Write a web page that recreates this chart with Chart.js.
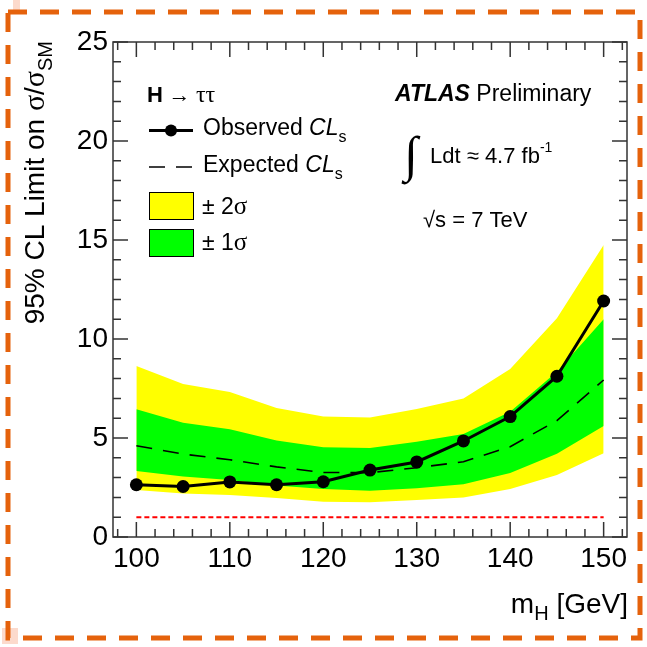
<!DOCTYPE html>
<html>
<head>
<meta charset="utf-8">
<script src="https://cdn.jsdelivr.net/npm/chart.js@4.4.1/dist/chart.umd.min.js"></script>
<style>
    html, body { margin: 0; padding: 0; background: #fff; }
    #wrap { width: 647px; height: 647px; }
</style>
</head>
<body>
<div id="wrap"><canvas id="limitChart" width="647" height="647"></canvas></div>
<script>
// Higgs mass points (GeV)
const masses = [100, 105, 110, 115, 120, 125, 130, 135, 140, 145, 150];

// 95% CL limits on sigma/sigma_SM
const observed = [2.64, 2.55, 2.78, 2.64, 2.79, 3.38, 3.79, 4.85, 6.08, 8.12, 11.92];
const expected = [4.61, 4.19, 3.90, 3.54, 3.26, 3.25, 3.50, 3.80, 4.56, 5.88, 7.93];
const oneSigmaUp = [6.45, 5.77, 5.44, 4.88, 4.53, 4.49, 4.81, 5.20, 6.33, 8.35, 11.00];
const oneSigmaDown = [3.33, 3.05, 2.88, 2.60, 2.42, 2.34, 2.46, 2.66, 3.23, 4.21, 5.60];
const twoSigmaUp = [8.64, 7.73, 7.32, 6.52, 6.09, 6.03, 6.46, 7.00, 8.48, 11.05, 14.75];
const twoSigmaDown = [2.37, 2.20, 2.12, 1.97, 1.78, 1.76, 1.87, 2.00, 2.42, 3.13, 4.23];
const smReference = 1;

// Axis ticks
const xTickLabels = [100, 110, 120, 130, 140, 150];
const yTickLabels = [0, 5, 10, 15, 20, 25];

const SANS = '"Liberation Sans", Arial, sans-serif';
const SERIF = '"Liberation Serif", "DejaVu Serif", serif';

function points(values) {
    return values.map((v, i) => ({ x: masses[i], y: v }));
}

// draw a run of text pieces with their own font and vertical shift
function drawRich(ctx, x, y, parts, align) {
    let width = 0;
    parts.forEach(p => {
        ctx.font = p[1];
        width += ctx.measureText(p[0]).width;
    });
    let cx = align === 'right' ? x - width : (align === 'center' ? x - width / 2 : x);
    parts.forEach(p => {
        ctx.font = p[1];
        ctx.fillText(p[0], cx, y + (p[2] || 0));
        cx += ctx.measureText(p[0]).width;
    });
}

// white page + orange dashed border
const pagePlugin = {
    id: 'page',
    beforeDraw(chart) {
        const ctx = chart.ctx;
        ctx.save();
        ctx.fillStyle = '#fff';
        ctx.fillRect(0, 0, chart.width, chart.height);
        ctx.restore();
    },
    afterDraw(chart) {
        const ctx = chart.ctx;
        ctx.save();
        ctx.fillStyle = 'rgba(245, 150, 110, 0.35)';
        ctx.fillRect(13, 0, 7, 14);
        ctx.fillRect(2, 628, 16, 16);
        ctx.strokeStyle = '#e5620c';
        ctx.lineWidth = 5;
        ctx.setLineDash([19, 13]);
        ctx.strokeRect(8, 12, 632, 626);
        ctx.restore();
    }
};

// ROOT style frame with inward ticks on all four sides
const framePlugin = {
    id: 'frame',
    afterDatasetsDraw(chart) {
        const ctx = chart.ctx;
        const area = chart.chartArea;
        const xs = chart.scales.x;
        const ys = chart.scales.y;
        ctx.save();
        ctx.strokeStyle = '#333';
        ctx.lineWidth = 1.5;
        ctx.strokeRect(area.left, area.top, area.right - area.left, area.bottom - area.top);

        ctx.beginPath();
        for (let m = 98; m <= 152; m += 2) {
            const px = xs.getPixelForValue(m);
            const len = m % 10 === 0 ? 15 : 8;
            ctx.moveTo(px, area.bottom);
            ctx.lineTo(px, area.bottom - len);
            ctx.moveTo(px, area.top);
            ctx.lineTo(px, area.top + len);
        }
        for (let v = 0; v <= 25; v += 1) {
            const py = ys.getPixelForValue(v);
            const len = v % 5 === 0 ? 15 : 8;
            ctx.moveTo(area.left, py);
            ctx.lineTo(area.left + len, py);
            ctx.moveTo(area.right, py);
            ctx.lineTo(area.right - len, py);
        }
        ctx.stroke();
        ctx.restore();
    }
};

// titles, legend and labels
const textPlugin = {
    id: 'texts',
    afterDraw(chart) {
        const ctx = chart.ctx;
        ctx.save();
        ctx.fillStyle = '#000';
        ctx.textBaseline = 'alphabetic';

        // y axis title
        ctx.save();
        ctx.translate(44, 41);
        ctx.rotate(-Math.PI / 2);
        drawRich(ctx, 0, 0, [
            ['95% CL Limit on ', '28px ' + SANS],
            ['\u03c3', '30px ' + SERIF],
            ['/', '28px ' + SANS],
            ['\u03c3', '30px ' + SERIF],
            ['SM', '20px ' + SANS, 8]
        ], 'right');
        ctx.restore();

        // x axis title
        drawRich(ctx, 628, 613, [
            ['m', '28px ' + SANS],
            ['H', '20px ' + SANS, 7],
            [' [GeV]', '28px ' + SANS]
        ], 'right');

        // legend header
        drawRich(ctx, 147, 102, [
            ['H', 'bold 22px ' + SANS],
            [' \u2192 ', '22px ' + SERIF],
            ['\u03c4\u03c4', '24px ' + SERIF]
        ]);

        // observed sample
        ctx.strokeStyle = '#000';
        ctx.lineWidth = 3;
        ctx.beginPath();
        ctx.moveTo(149, 130.5);
        ctx.lineTo(193, 130.5);
        ctx.stroke();
        ctx.beginPath();
        ctx.arc(171, 130.5, 6, 0, Math.PI * 2);
        ctx.fill();
        drawRich(ctx, 203, 135, [
            ['Observed ', '23px ' + SANS],
            ['CL', 'italic 23px ' + SANS],
            ['s', '16px ' + SANS, 7]
        ]);

        // expected sample
        ctx.lineWidth = 1.6;
        ctx.setLineDash([16, 11]);
        ctx.beginPath();
        ctx.moveTo(149, 167);
        ctx.lineTo(193, 167);
        ctx.stroke();
        ctx.setLineDash([]);
        drawRich(ctx, 203, 172, [
            ['Expected ', '23px ' + SANS],
            ['CL', 'italic 23px ' + SANS],
            ['s', '16px ' + SANS, 7]
        ]);

        // band boxes
        ctx.lineWidth = 1;
        ctx.fillStyle = '#ffff00';
        ctx.fillRect(149.5, 192.5, 44, 27);
        ctx.strokeRect(149.5, 192.5, 44, 27);
        ctx.fillStyle = '#00ff00';
        ctx.fillRect(149.5, 229.5, 44, 27);
        ctx.strokeRect(149.5, 229.5, 44, 27);
        ctx.fillStyle = '#000';
        drawRich(ctx, 202, 214, [
            ['\u00b1 2', '23px ' + SANS],
            ['\u03c3', '25px ' + SERIF]
        ]);
        drawRich(ctx, 202, 250, [
            ['\u00b1 1', '23px ' + SANS],
            ['\u03c3', '25px ' + SERIF]
        ]);

        // experiment label
        drawRich(ctx, 395, 101, [
            ['ATLAS', 'italic bold 23px ' + SANS],
            [' Preliminary', '23px ' + SANS]
        ]);
        drawRich(ctx, 404, 171, [
            ['\u222b', '50px ' + SERIF]
        ]);
        drawRich(ctx, 430, 163, [
            ['Ldt \u2248 4.7 fb', '22px ' + SANS],
            ['-1', '14px ' + SANS, -11]
        ]);
        drawRich(ctx, 423, 227, [
            ['\u221as = 7 TeV', '22px ' + SANS]
        ]);
        ctx.restore();
    }
};

function buildChart() {
    const ctx = document.getElementById('limitChart').getContext('2d');
    const flat = { pointRadius: 0, borderWidth: 0, borderColor: 'transparent', tension: 0 };

    return new Chart(ctx, {
        type: 'line',
        data: {
            datasets: [
                { ...flat, label: '+2 sigma', data: points(twoSigmaUp), fill: 1, backgroundColor: '#ffff00', order: 6 },
                { ...flat, label: '-2 sigma', data: points(twoSigmaDown), fill: false, order: 7 },
                { ...flat, label: '+1 sigma', data: points(oneSigmaUp), fill: 3, backgroundColor: '#00ff00', order: 4 },
                { ...flat, label: '-1 sigma', data: points(oneSigmaDown), fill: false, order: 5 },
                {
                    label: 'SM',
                    data: [{ x: masses[0], y: smReference }, { x: masses[masses.length - 1], y: smReference }],
                    borderColor: '#ff0000', borderWidth: 2, borderDash: [5, 3],
                    pointRadius: 0, fill: false, order: 3
                },
                {
                    label: 'Expected CLs',
                    data: points(expected),
                    borderColor: '#000', borderWidth: 1.6, borderDash: [16, 11],
                    pointRadius: 0, fill: false, tension: 0, order: 2
                },
                {
                    label: 'Observed CLs',
                    data: points(observed),
                    borderColor: '#000', borderWidth: 3,
                    pointRadius: 6.5, pointBackgroundColor: '#000', pointBorderWidth: 0,
                    fill: false, tension: 0, order: 1
                }
            ]
        },
        options: {
            responsive: false,
            animation: false,
            events: [],
            layout: { padding: { top: 42, right: 20, bottom: 0, left: 0 } },
            plugins: {
                legend: { display: false },
                tooltip: { enabled: false }
            },
            scales: {
                x: {
                    type: 'linear',
                    min: 97.5,
                    max: 152.5,
                    grid: { display: false, drawTicks: false },
                    border: { display: false },
                    afterBuildTicks: scale => { scale.ticks = xTickLabels.map(v => ({ value: v })); },
                    afterFit: scale => { scale.height = 110; },
                    ticks: {
                        padding: 5,
                        maxRotation: 0,
                        autoSkip: false,
                        color: '#000',
                        font: { family: SANS, size: 28 }
                    }
                },
                y: {
                    type: 'linear',
                    min: 0,
                    max: 25,
                    grid: { display: false, drawTicks: false },
                    border: { display: false },
                    afterBuildTicks: scale => { scale.ticks = yTickLabels.map(v => ({ value: v })); },
                    afterFit: scale => { scale.width = 113; },
                    ticks: {
                        padding: 5,
                        color: '#000',
                        font: { family: SANS, size: 28 }
                    }
                }
            }
        },
        plugins: [pagePlugin, framePlugin, textPlugin]
    });
}

document.addEventListener('DOMContentLoaded', () => {
    buildChart();
});
</script>
</body>
</html>
